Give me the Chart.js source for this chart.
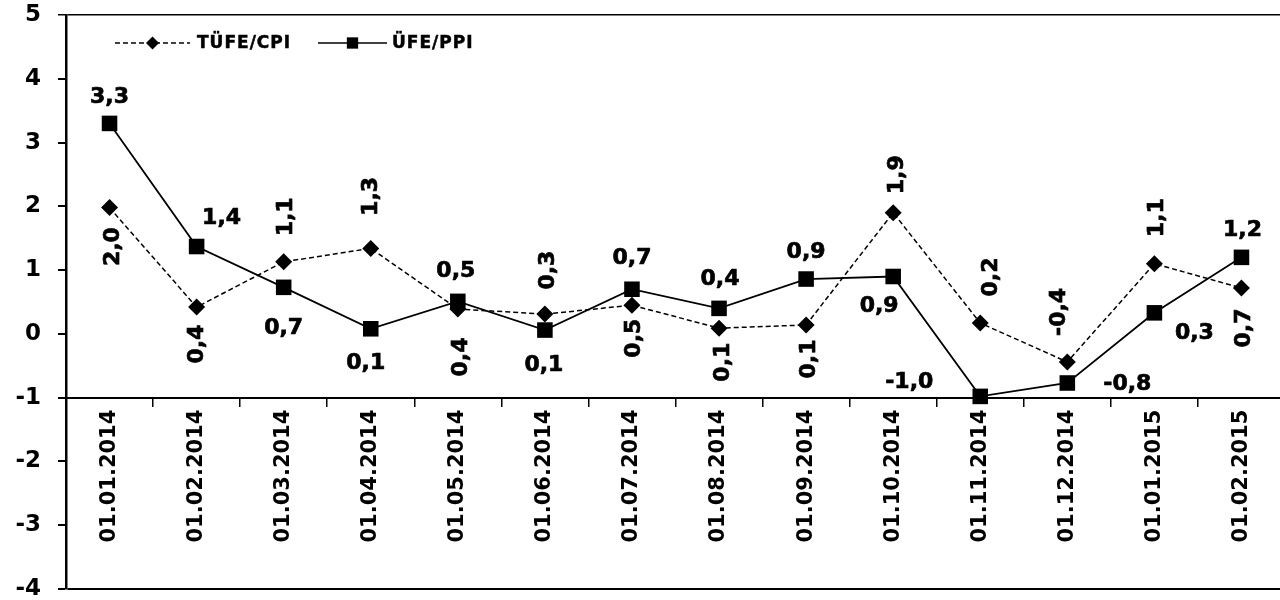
<!DOCTYPE html>
<html>
<head>
<meta charset="utf-8">
<script src="https://cdn.jsdelivr.net/npm/chart.js"></script>
<style>
  html, body { margin: 0; padding: 0; background: #fff; overflow: hidden; }
  #wrap { width: 1280px; height: 600px; overflow: hidden; }
</style>
</head>
<body>
<div id="wrap"><canvas id="chart" width="1296" height="600"></canvas></div>
<script>
// monthly change, %
const dates = ['01.01.2014', '01.02.2014', '01.03.2014', '01.04.2014', '01.05.2014',
  '01.06.2014', '01.07.2014', '01.08.2014', '01.09.2014', '01.10.2014',
  '01.11.2014', '01.12.2014', '01.01.2015', '01.02.2015'];
const cpiValues = [1.98, 0.42, 1.13, 1.34, 0.39, 0.31, 0.45, 0.09, 0.14, 1.90, 0.17, -0.44, 1.10, 0.72];
const ppiValues = [3.30, 1.37, 0.73, 0.08, 0.51, 0.06, 0.70, 0.40, 0.86, 0.90, -0.98, -0.77, 0.33, 1.20];
const yTicks = [5, 4, 3, 2, 1, 0, -1, -2, -3, -4];

// where each value label sits relative to its point (dx, dy)
const cpiLabelShift = [[3, 39], [0, 37], [2, -45], [0, -52], [2, 48], [2, -44], [1, 33],
  [3, 34], [2, 34], [3, -38], [10, -46], [-9, -50], [2, -46], [2, 40]];
const ppiLabelShift = [[0, -27], [25, -29], [0, 40], [-5, 33], [-2, -31], [-1, 34], [0, -32],
  [1, -30], [0, -28], [-14, 29], [-71, -15], [60, 0], [40, 19], [1, -28]];

const FONT = "'DejaVu Sans', Verdana, sans-serif";

function fmt(v) {
  return v.toFixed(1).replace('.', ',');
}

const valueLabels = {
  id: 'valueLabels',
  afterDatasetsDraw(chart) {
    const ctx = chart.ctx;
    ctx.save();
    ctx.fillStyle = '#000';
    ctx.strokeStyle = '#000';
    ctx.lineWidth = 0.7;
    ctx.font = 'bold 22px ' + FONT;
    ctx.textAlign = 'center';
    ctx.textBaseline = 'middle';
    chart.data.datasets.forEach((ds, di) => {
      const meta = chart.getDatasetMeta(di);
      const shifts = di === 0 ? cpiLabelShift : ppiLabelShift;
      meta.data.forEach((pt, i) => {
        const x = pt.x + shifts[i][0];
        const y = pt.y + shifts[i][1];
        ctx.save();
        ctx.translate(x, y);
        if (di === 0) ctx.rotate(-Math.PI / 2);
        ctx.fillText(fmt(ds.data[i]), 0, 1);
        ctx.strokeText(fmt(ds.data[i]), 0, 1);
        ctx.restore();
      });
    });
    ctx.restore();
  }
};

// legend drawn inside the plot, top left
const innerLegend = {
  id: 'innerLegend',
  afterDraw(chart) {
    const ctx = chart.ctx;
    const left = chart.chartArea.left;
    const y = chart.chartArea.top + 28;
    const items = [
      { ds: chart.data.datasets[0], x0: left + 49, x1: left + 124, tx: left + 131, r: 6.5 },
      { ds: chart.data.datasets[1], x0: left + 252, x1: left + 321, tx: left + 326, r: 8 }
    ];
    ctx.save();
    items.forEach(it => {
      ctx.strokeStyle = '#000';
      ctx.lineWidth = 1.3;
      ctx.setLineDash(it.ds.borderDash || []);
      ctx.beginPath();
      ctx.moveTo(it.x0, y);
      ctx.lineTo(it.x1, y);
      ctx.stroke();
      ctx.setLineDash([]);
      ctx.fillStyle = '#000';
      Chart.helpers.drawPoint(ctx, { pointStyle: it.ds.pointStyle, radius: it.r, rotation: 0 },
        (it.x0 + it.x1) / 2, y);
      ctx.font = 'bold 17px ' + FONT;
      ctx.textAlign = 'left';
      ctx.textBaseline = 'middle';
      ctx.letterSpacing = '1px';
      ctx.lineWidth = 0.5;
      ctx.fillText(it.ds.label, it.tx, y + 1);
      ctx.strokeText(it.ds.label, it.tx, y + 1);
      ctx.letterSpacing = '0px';
    });
    ctx.restore();
  }
};

new Chart(document.getElementById('chart'), {
  type: 'line',
  data: {
    labels: dates,
    datasets: [
      {
        label: 'TÜFE/CPI',
        data: cpiValues,
        borderColor: '#000',
        backgroundColor: '#000',
        borderWidth: 1.5,
        borderDash: [5, 3],
        pointStyle: 'rectRot',
        pointRadius: 8.5,
        pointBackgroundColor: '#000',
        pointBorderWidth: 0,
        tension: 0
      },
      {
        label: 'ÜFE/PPI',
        data: ppiValues,
        borderColor: '#000',
        backgroundColor: '#000',
        borderWidth: 1.8,
        pointStyle: 'rect',
        pointRadius: 11,
        pointBackgroundColor: '#000',
        pointBorderWidth: 0,
        tension: 0
      }
    ]
  },
  options: {
    responsive: false,
    animation: false,
    layout: { padding: { left: 0, right: 2, top: 15, bottom: 8 } },
    plugins: {
      legend: { display: false },
      tooltip: { enabled: false }
    },
    scales: {
      x: {
        type: 'category',
        position: { y: -1 },
        offset: true,
        border: { display: true, color: '#000', width: 2 },
        grid: { offset: true, drawOnChartArea: false, color: '#000', tickLength: 8, lineWidth: 1.5 },
        ticks: {
          color: '#000',
          autoSkip: false,
          minRotation: 90,
          maxRotation: 90,
          padding: 4,
          font: { family: FONT, size: 21, weight: 'bold' }
        }
      },
      y: {
        min: -4,
        max: 5,
        afterBuildTicks(scale) {
          scale.ticks = yTicks.map(v => ({ value: v }));
        },
        afterFit(scale) {
          scale.width = 66;
          scale.paddingTop = 0;
          scale.paddingBottom = 0;
        },
        border: { display: true, color: '#000', width: 2.5 },
        grid: {
          color: c => (c.tick && (c.tick.value === 5 || c.tick.value === -4)) ? '#000' : 'rgba(0,0,0,0)',
          tickColor: '#000',
          tickLength: 8,
          lineWidth: c => (c.tick && c.tick.value === 5) ? 1.5 : 2
        },
        ticks: {
          color: '#000',
          padding: 17,
          font: { family: FONT, size: 23, weight: 'bold' }
        }
      }
    }
  },
  plugins: [valueLabels, innerLegend]
});
</script>
</body>
</html>
